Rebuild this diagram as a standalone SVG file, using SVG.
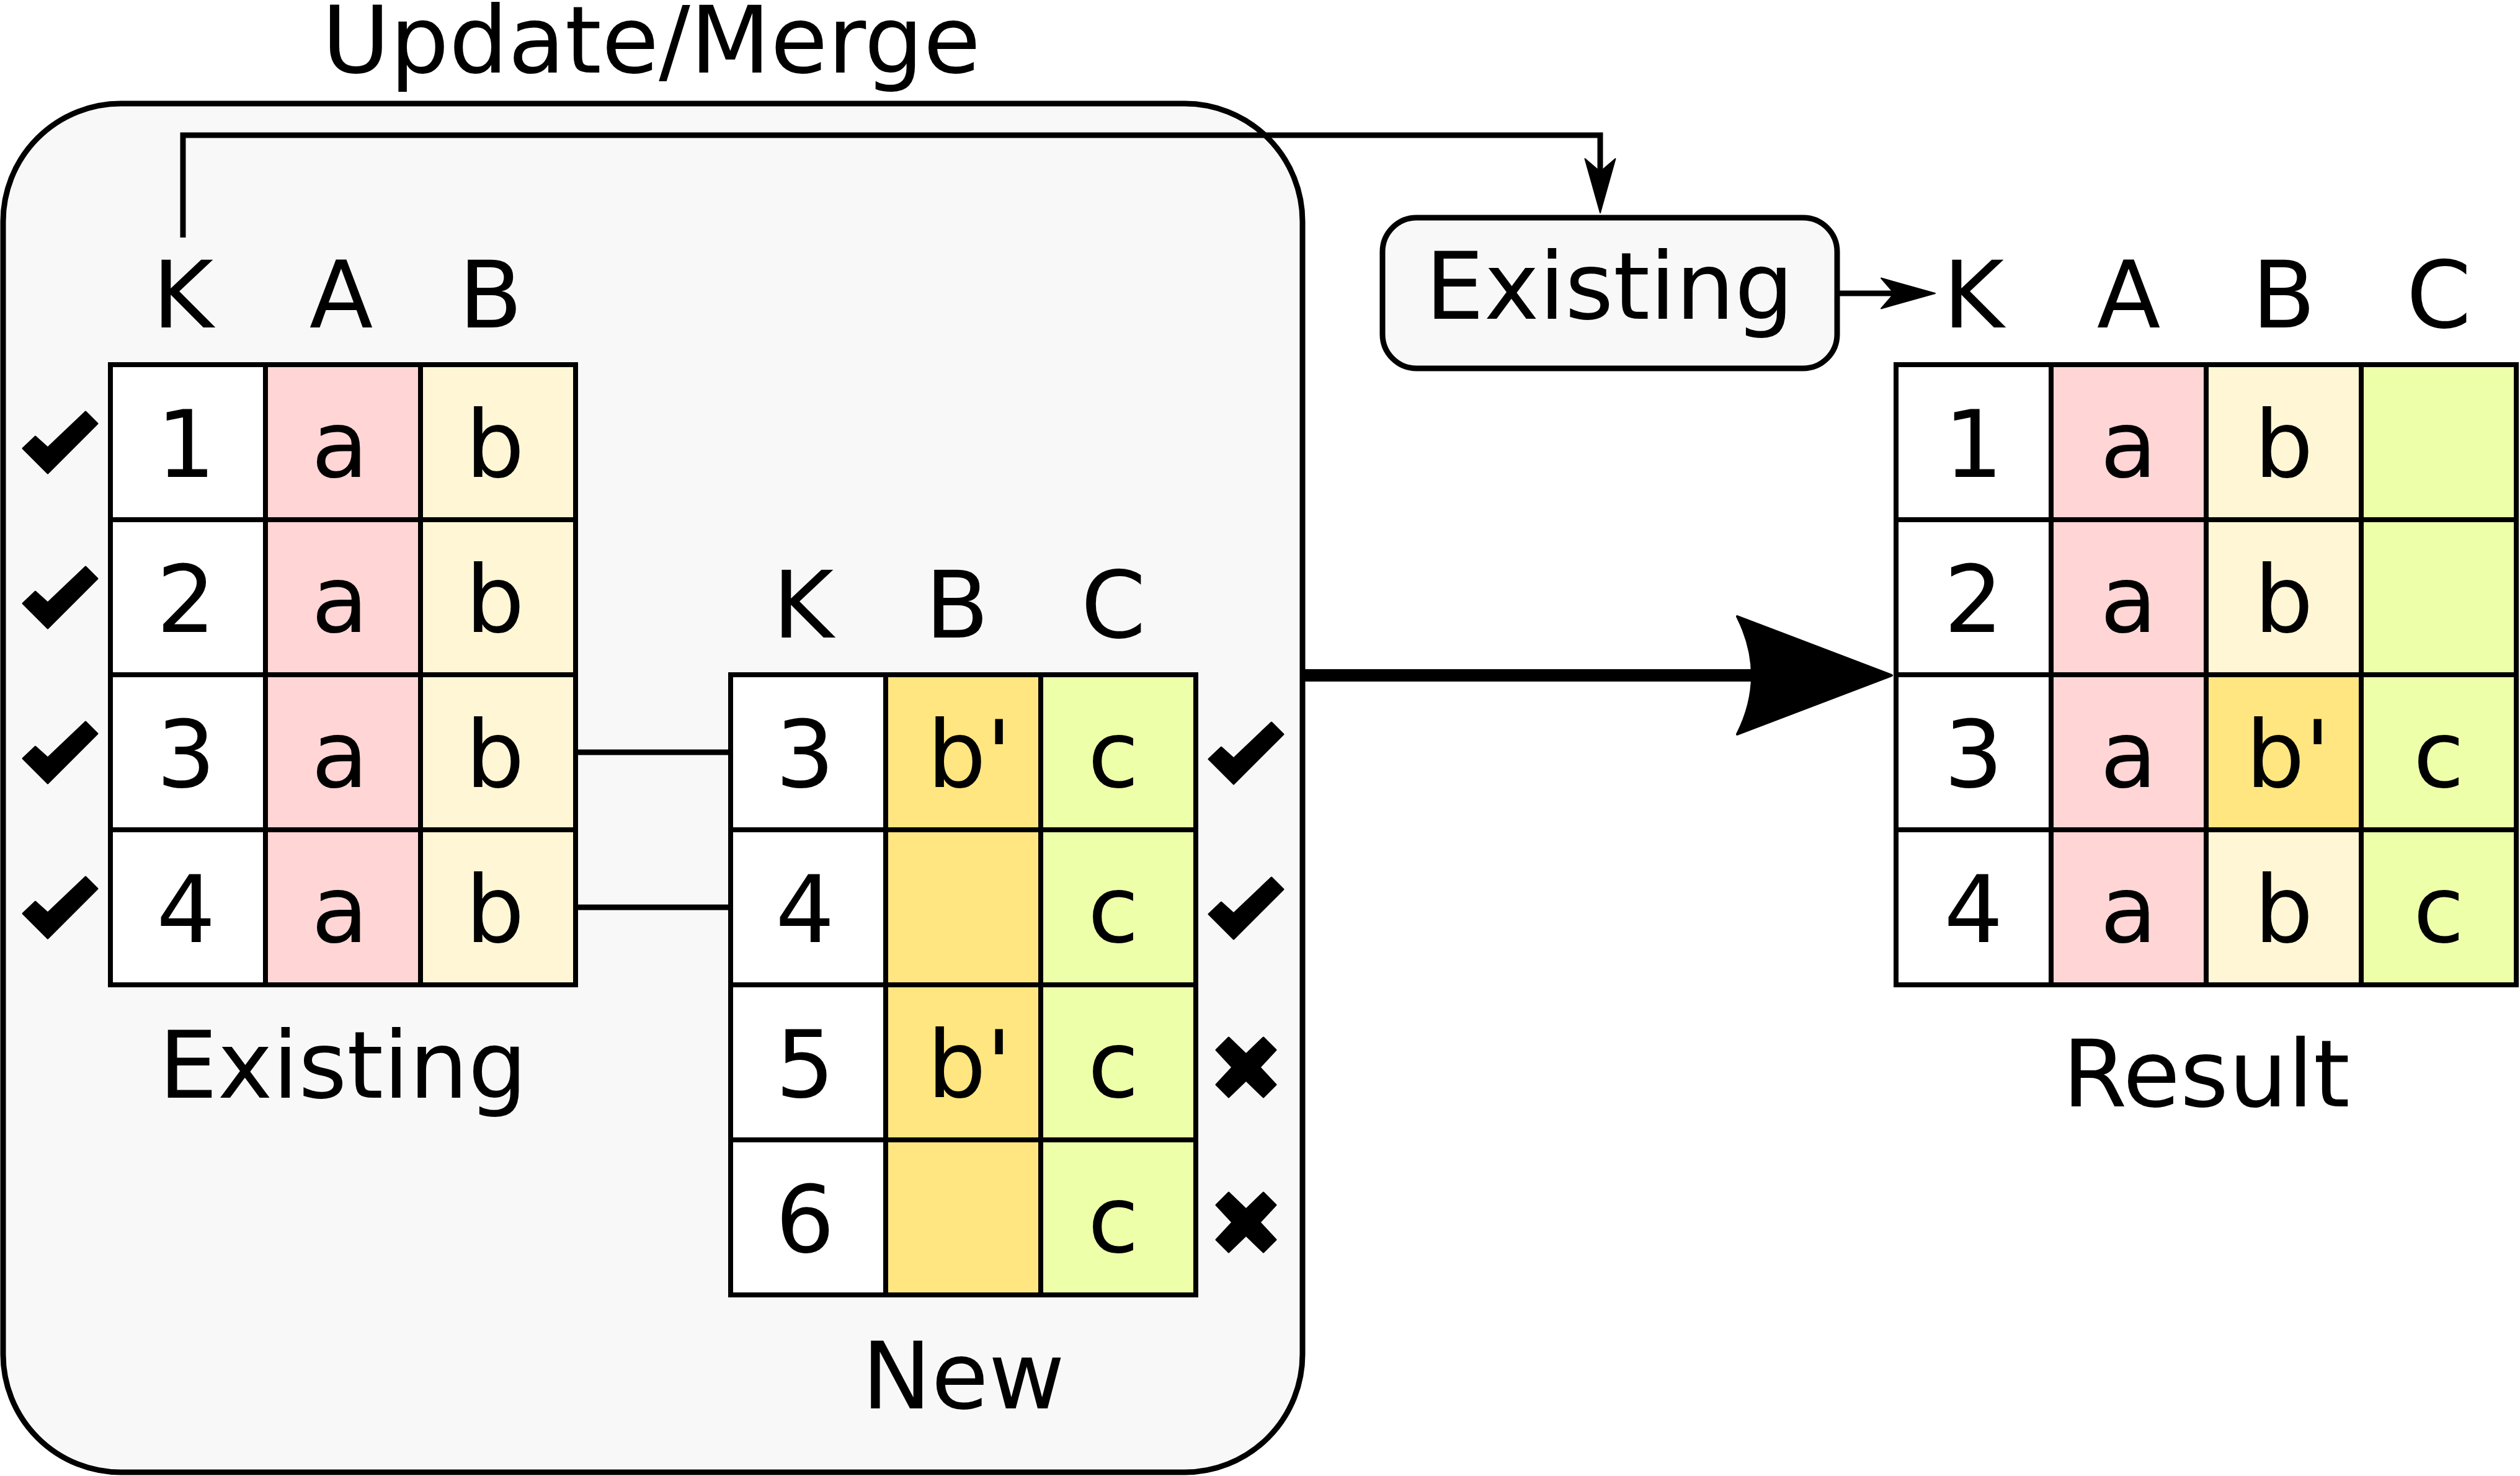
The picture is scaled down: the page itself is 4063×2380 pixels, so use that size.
<svg xmlns="http://www.w3.org/2000/svg" width="4063" height="2380" viewBox="0 0 4063 2380">
  <style>
    text { font-family: "DejaVu Sans", "Liberation Sans", sans-serif; fill: #000; }
    .t { font-size: 150px; text-anchor: middle; }
    .cell { stroke: #000; stroke-width: 8; }
    .w { fill: #ffffff; }
    .pk { fill: #ffd5d5; }
    .ly { fill: #fff6d5; }
    .dy { fill: #ffe680; }
    .gr { fill: #eeffaa; }
    .box { fill: #f8f8f8; stroke: #000; stroke-width: 9; }
    .ln { fill: none; stroke: #000; stroke-width: 9; }
    .icon { fill: #000; stroke: #000; stroke-width: 3; stroke-linejoin: round; }
  </style>
  <defs>
    <marker id="arrowSm" markerUnits="userSpaceOnUse" orient="auto" viewBox="-50 -30 100 60" markerWidth="100" markerHeight="60" refX="0" refY="0">
      <path d="M46,0 L-41,-24.5 L-20,0 L-41,24.5 Z" fill="#000" stroke="#000" stroke-width="2" stroke-linejoin="round"/>
    </marker>
    <marker id="arrowLg" markerUnits="userSpaceOnUse" orient="auto" viewBox="-105 -100 260 200" markerWidth="260" markerHeight="200" refX="0" refY="0">
      <path d="M150,0 L-99,-95 Q-51,0 -99,95 Z" fill="#000" stroke="#000" stroke-width="4" stroke-linejoin="round"/>
    </marker>
    <path id="check" class="icon" d="M-60,10 L-40,-9 L-20,9 L41,-49 L60,-30 L-20,50 Z"/>
    <path id="cross" class="icon" d="M-48,-28 L-28,-48 L0,-21 L28,-48 L48,-28 L22,0 L48,28 L28,48 L0,21 L-28,48 L-48,28 L-22,0 Z"/>
  </defs>

  <text class="t" x="1050" y="117">Update/Merge</text>

  <g id="update-merge">
    <rect class="box" x="5" y="167" width="2095" height="2207" rx="190" ry="190"/>
  </g>

  <g id="connectors">
    <polyline class="ln" points="295,383 295,218 2580,218 2580,297" marker-end="url(#arrowSm)"/>
    <line class="ln" x1="2962" y1="473" x2="3074" y2="473" marker-end="url(#arrowSm)"/>
    <line class="ln" x1="928" y1="1213" x2="1178" y2="1213"/>
    <line class="ln" x1="928" y1="1463" x2="1178" y2="1463"/>
    <line x1="2100" y1="1089" x2="2900" y2="1089" stroke="#000" stroke-width="20" marker-end="url(#arrowLg)"/>
  </g>

  <g id="existing-table">
    <text class="t" x="295" y="528">K</text>
    <text class="t" x="550" y="528">A</text>
    <text class="t" x="791" y="528">B</text>
    <rect class="cell w" x="178" y="588" width="250" height="250"/>
    <rect class="cell pk" x="428" y="588" width="250" height="250"/>
    <rect class="cell ly" x="678" y="588" width="250" height="250"/>
    <rect class="cell w" x="178" y="838" width="250" height="250"/>
    <rect class="cell pk" x="428" y="838" width="250" height="250"/>
    <rect class="cell ly" x="678" y="838" width="250" height="250"/>
    <rect class="cell w" x="178" y="1088" width="250" height="250"/>
    <rect class="cell pk" x="428" y="1088" width="250" height="250"/>
    <rect class="cell ly" x="678" y="1088" width="250" height="250"/>
    <rect class="cell w" x="178" y="1338" width="250" height="250"/>
    <rect class="cell pk" x="428" y="1338" width="250" height="250"/>
    <rect class="cell ly" x="678" y="1338" width="250" height="250"/>
    <text class="t" x="300" y="769">1</text>
    <text class="t" x="548" y="769">a</text>
    <text class="t" x="798" y="769">b</text>
    <text class="t" x="300" y="1019">2</text>
    <text class="t" x="548" y="1019">a</text>
    <text class="t" x="798" y="1019">b</text>
    <text class="t" x="300" y="1269">3</text>
    <text class="t" x="548" y="1269">a</text>
    <text class="t" x="798" y="1269">b</text>
    <text class="t" x="300" y="1519">4</text>
    <text class="t" x="548" y="1519">a</text>
    <text class="t" x="798" y="1519">b</text>
    <text class="t" x="553" y="1770">Existing</text>
  </g>

  <g id="existing-checks">
    <use href="#check" x="97" y="713"/>
    <use href="#check" x="97" y="963"/>
    <use href="#check" x="97" y="1213"/>
    <use href="#check" x="97" y="1463"/>
  </g>

  <g id="new-table">
    <text class="t" x="1295" y="1028">K</text>
    <text class="t" x="1543" y="1028">B</text>
    <text class="t" x="1795" y="1028">C</text>
    <rect class="cell w" x="1178" y="1088" width="250" height="250"/>
    <rect class="cell dy" x="1428" y="1088" width="250" height="250"/>
    <rect class="cell gr" x="1678" y="1088" width="250" height="250"/>
    <rect class="cell w" x="1178" y="1338" width="250" height="250"/>
    <rect class="cell dy" x="1428" y="1338" width="250" height="250"/>
    <rect class="cell gr" x="1678" y="1338" width="250" height="250"/>
    <rect class="cell w" x="1178" y="1588" width="250" height="250"/>
    <rect class="cell dy" x="1428" y="1588" width="250" height="250"/>
    <rect class="cell gr" x="1678" y="1588" width="250" height="250"/>
    <rect class="cell w" x="1178" y="1838" width="250" height="250"/>
    <rect class="cell dy" x="1428" y="1838" width="250" height="250"/>
    <rect class="cell gr" x="1678" y="1838" width="250" height="250"/>
    <text class="t" x="1298" y="1269">3</text>
    <text class="t" x="1563" y="1269">b'</text>
    <text class="t" x="1795" y="1269">c</text>
    <text class="t" x="1298" y="1519">4</text>
    <text class="t" x="1795" y="1519">c</text>
    <text class="t" x="1298" y="1769">5</text>
    <text class="t" x="1563" y="1769">b'</text>
    <text class="t" x="1795" y="1769">c</text>
    <text class="t" x="1298" y="2019">6</text>
    <text class="t" x="1795" y="2019">c</text>
    <text class="t" x="1553" y="2271">New</text>
  </g>

  <g id="new-checks">
    <use href="#check" x="2009" y="1214"/>
    <use href="#check" x="2009" y="1464"/>
    <use href="#cross" x="2009" y="1721"/>
    <use href="#cross" x="2009" y="1971"/>
  </g>

  <g id="existing-box">
    <rect class="box" x="2229" y="351" width="733" height="243" rx="55" ry="55"/>
    <text class="t" x="2595" y="514">Existing</text>
  </g>

  <g id="result-table">
    <text class="t" x="3182" y="528">K</text>
    <text class="t" x="3432" y="528">A</text>
    <text class="t" x="3682" y="528">B</text>
    <text class="t" x="3932" y="528">C</text>
    <rect class="cell w" x="3057" y="588" width="250" height="250"/>
    <rect class="cell pk" x="3307" y="588" width="250" height="250"/>
    <rect class="cell ly" x="3557" y="588" width="250" height="250"/>
    <rect class="cell gr" x="3807" y="588" width="250" height="250"/>
    <rect class="cell w" x="3057" y="838" width="250" height="250"/>
    <rect class="cell pk" x="3307" y="838" width="250" height="250"/>
    <rect class="cell ly" x="3557" y="838" width="250" height="250"/>
    <rect class="cell gr" x="3807" y="838" width="250" height="250"/>
    <rect class="cell w" x="3057" y="1088" width="250" height="250"/>
    <rect class="cell pk" x="3307" y="1088" width="250" height="250"/>
    <rect class="cell dy" x="3557" y="1088" width="250" height="250"/>
    <rect class="cell gr" x="3807" y="1088" width="250" height="250"/>
    <rect class="cell w" x="3057" y="1338" width="250" height="250"/>
    <rect class="cell pk" x="3307" y="1338" width="250" height="250"/>
    <rect class="cell ly" x="3557" y="1338" width="250" height="250"/>
    <rect class="cell gr" x="3807" y="1338" width="250" height="250"/>
    <text class="t" x="3182" y="769">1</text>
    <text class="t" x="3432" y="769">a</text>
    <text class="t" x="3682" y="769">b</text>
    <text class="t" x="3182" y="1019">2</text>
    <text class="t" x="3432" y="1019">a</text>
    <text class="t" x="3682" y="1019">b</text>
    <text class="t" x="3182" y="1269">3</text>
    <text class="t" x="3432" y="1269">a</text>
    <text class="t" x="3689" y="1269">b'</text>
    <text class="t" x="3932" y="1269">c</text>
    <text class="t" x="3182" y="1519">4</text>
    <text class="t" x="3432" y="1519">a</text>
    <text class="t" x="3682" y="1519">b</text>
    <text class="t" x="3932" y="1519">c</text>
    <text class="t" x="3557" y="1784">Result</text>
  </g>
</svg>
